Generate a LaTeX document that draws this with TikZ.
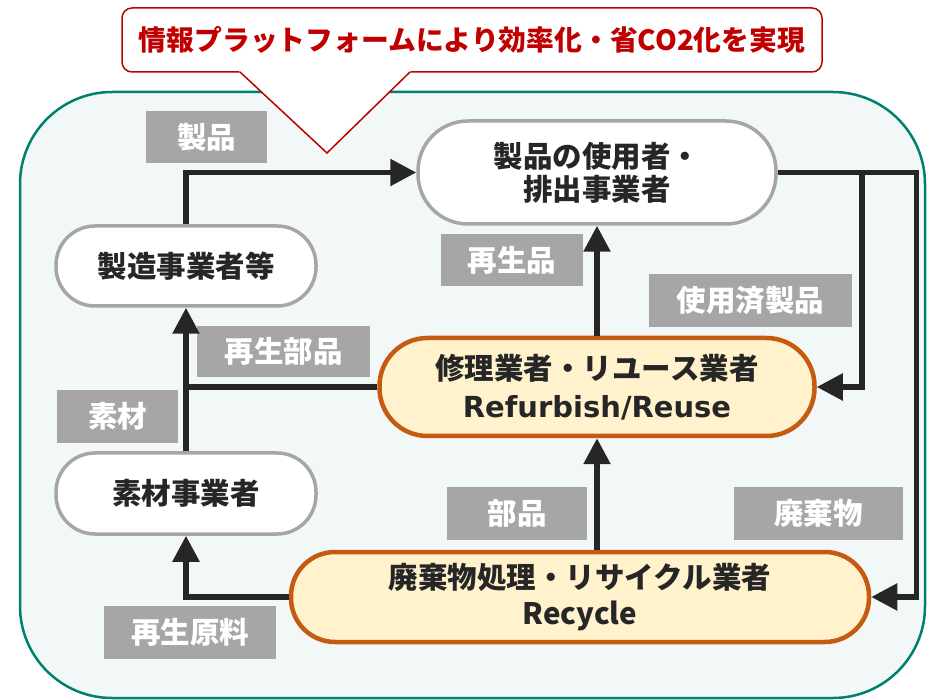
\documentclass[tikz,border=0pt]{standalone}
\usepackage{fontspec}
\setmainfont{Noto Sans CJK JP}
\newfontfamily\latinfont{DejaVu Sans}
\usetikzlibrary{arrows.meta,calc}
\definecolor{framec}{HTML}{00806E}
\definecolor{framefill}{HTML}{F2F8F8}
\definecolor{calred}{HTML}{C00000}
\definecolor{grayb}{HTML}{A6A6A6}
\definecolor{tagbg}{HTML}{A6A6A6}
\definecolor{orangeb}{HTML}{C55A11}
\definecolor{cream}{HTML}{FFF2CC}
\definecolor{dark}{HTML}{262626}
\begin{document}
\begin{tikzpicture}[x=1pt,y=-1pt,
  font=\fontsize{29.5}{33}\selectfont\bfseries,
  plain/.style={draw=grayb, line width=3.5pt, fill=white, text=dark, align=center, inner sep=0pt},
  hub/.style={draw=orangeb, line width=4.5pt, fill=cream, text=dark, align=center, inner sep=0pt},
  tag/.style={fill=tagbg, text=white, inner sep=0pt},
  flow/.style={line width=5.5pt, draw=dark, -{Triangle[length=26pt,width=26pt]}},
  wire/.style={line width=5.5pt, draw=dark}]
\useasboundingbox (0,0) rectangle (935,700);
% frame
\draw[framec, line width=2.5pt, fill=framefill, rounded corners=92pt] (20,92) rectangle (925,698);
% callout
\node[draw=calred, line width=1.5pt, fill=white, rounded corners=10pt, minimum width=700pt, minimum height=64pt, text=calred, inner sep=0pt, font=\fontsize{27.8}{33}\selectfont\bfseries] (call) at (472,40) {情報プラットフォームにより効率化・省CO2化を実現};
\fill[white] (238,70) -- (327,153) -- (412,70) -- cycle;
\draw[calred, line width=1.5pt] (240,72) -- (327,153) -- (410,72);
% nodes
\node[plain, minimum width=358pt, minimum height=103pt, rounded corners=50pt] (user) at (597,172.5) {製品の使用者・\\排出事業者};
\node[plain, minimum width=260pt, minimum height=80pt, rounded corners=39pt] (mfr) at (186,266) {製造事業者等};
\node[plain, minimum width=260pt, minimum height=81pt, rounded corners=39pt] (mat) at (186,493.5) {素材事業者};
\node[hub, font=\fontsize{29.5}{38}\selectfont\bfseries, minimum width=435pt, minimum height=98pt, rounded corners=48pt] (rep) at (597,387) {修理業者・リユース業者\\{\latinfont\fontsize{29}{38}\selectfont Refurbish/Reuse}};
\node[hub, font=\fontsize{29.5}{36}\selectfont\bfseries, minimum width=578pt, minimum height=90pt, rounded corners=44pt] (rec) at (580,597) {廃棄物処理・リサイクル業者\\Recycle};
% tags
\node[tag, minimum width=121pt, minimum height=52pt] (t1) at (206.5,137) {製品};
\node[tag, minimum width=142pt, minimum height=52pt] (t2) at (512,260) {再生品};
\node[tag, minimum width=203pt, minimum height=53pt] (t3) at (750.5,300.5) {使用済製品};
\node[tag, minimum width=173pt, minimum height=51pt] (t4) at (283.5,351.5) {再生部品};
\node[tag, minimum width=121pt, minimum height=53pt] (t5) at (117.5,416.5) {素材};
\node[tag, minimum width=140pt, minimum height=53pt] (t6) at (517,513.5) {部品};
\node[tag, minimum width=169pt, minimum height=53pt] (t7) at (818.5,513.5) {廃棄物};
\node[tag, minimum width=172pt, minimum height=53pt] (t8) at (190,632.5) {再生原料};
% connectors
\draw[flow] (mfr.north) |- (user.west);
\draw[flow] (rep.north) -- (user.south);
\draw[flow] (rec.north -| rep.north) -- (rep.south);
\draw[flow] (user.east) -| ($(rec.east)+(45,0)$) -- (rec.east);
\draw[flow] ($(user.east)+(84,0)$) |- (rep.east);
\draw[flow] (mat.north) -- (mfr.south);
\draw[wire] (rep.west) -- (rep.west -| mfr.south);
\draw[flow] (rec.west) -| (mat.south);
\end{tikzpicture}
\end{document}
